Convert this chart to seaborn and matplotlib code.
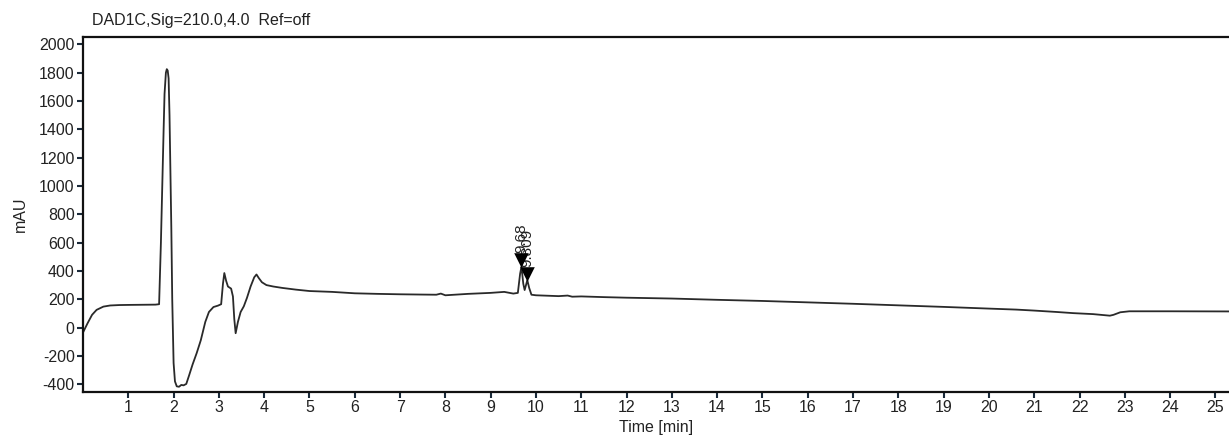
import numpy as np
import pandas as pd
import matplotlib
matplotlib.use("Agg")
import matplotlib.pyplot as plt
import seaborn as sns

# ---- data ----
time_min = [0.00, 0.10, 0.20, 0.30, 0.45, 0.60, 0.80, 1.00, 1.30, 1.60, 1.68, 1.72, 1.75, 1.78, 1.80,
            1.83, 1.85, 1.87, 1.89, 1.91, 1.93, 1.95, 1.97, 2.00, 2.03, 2.07, 2.12, 2.17, 2.22, 2.28,
            2.34, 2.42, 2.51, 2.60, 2.70, 2.78, 2.88, 2.98, 3.05, 3.09, 3.12, 3.16, 3.20, 3.27, 3.31,
            3.34, 3.37, 3.42, 3.48, 3.55, 3.62, 3.70, 3.78, 3.83, 3.88, 3.95, 4.05, 4.20, 4.40, 4.70,
            5.00, 5.50, 6.00, 6.50, 7.00, 7.50, 7.80, 7.90, 8.00, 8.50, 9.00, 9.30, 9.50, 9.60, 9.65,
            9.68, 9.72, 9.75, 9.78, 9.809, 9.85, 9.90, 10.00, 10.50, 10.70, 10.80, 11.00, 11.50, 12.00,
            13.00, 14.00, 15.00, 16.00, 17.00, 18.00, 19.00, 20.00, 20.60, 21.00, 21.50, 21.86, 22.30,
            22.67, 22.75, 22.90, 23.10, 24.00, 25.30]
signal_mau = [-35, 30, 90, 125, 148, 156, 159, 160, 161, 162, 165, 600, 1000, 1400, 1650,
              1800, 1825, 1815, 1760, 1500, 1100, 700, 200, -250, -380, -415, -418, -405, -408, -398,
              -340, -260, -180, -90, 40, 110, 145, 155, 165, 310, 385, 330, 290, 275, 220,
              60, -40, 40, 110, 150, 210, 290, 355, 375, 350, 320, 300, 290, 280, 268,
              258, 252, 242, 238, 235, 233, 232, 240, 228, 238, 245, 252, 240, 245, 380,
              430, 310, 265, 300, 335, 280, 232, 228, 222, 226, 218, 220, 215, 211,
              205, 196, 188, 178, 168, 157, 146, 134, 127, 120, 110, 102, 95,
              84, 90, 108, 115, 115, 114]

peak_times = [9.68, 9.809]
peak_heights = [430, 335]
peak_labels = ["9.68", "9.809"]

y_ticks = list(range(-400, 2001, 200))
x_ticks = list(range(1, 26))

title_text = "DAD1C,Sig=210.0,4.0  Ref=off"
x_label = "Time [min]"
y_label = "mAU"

# ---- styling ----
sns.set_theme(style="ticks")
plt.rcParams["font.family"] = ["Liberation Sans", "DejaVu Sans"]
plt.rcParams["axes.unicode_minus"] = False

FS = 11.5
fig = plt.figure(figsize=(12.29, 4.38), dpi=100)
ax = fig.add_axes([83 / 1229, 1 - 392 / 438, 1 - 83 / 1229, (392 - 37) / 438])

df = pd.DataFrame({"time": time_min, "signal": signal_mau})
sns.lineplot(data=df, x="time", y="signal", ax=ax, estimator=None, sort=False,
             color="#2a2a2a", linewidth=1.3)

# peak markers and labels
pk = pd.DataFrame({"time": peak_times, "height": peak_heights})
pk["marker_y"] = pk["height"] + 45
sns.scatterplot(data=pk, x="time", y="marker_y", ax=ax, marker="v", s=110,
                color="black", edgecolor="black", linewidth=0, zorder=5)
for t, h, lab in zip(peak_times, peak_heights, peak_labels):
    ax.text(t, h + 95, lab, rotation=90, ha="center", va="bottom",
            fontsize=FS - 0.5, color="#222222")

ax.set_xlim(0, 25.3)
ax.set_ylim(-455, 2052)
ax.set_xticks(x_ticks)
ax.set_yticks(y_ticks)
ax.set_xticklabels([str(v) for v in x_ticks])
ax.set_yticklabels([str(v) for v in y_ticks])
ax.tick_params(axis="both", direction="out", length=4, width=1.5,
               labelsize=FS, colors="#1a2a3a", labelcolor="#222222", pad=2)

for s in ["left", "bottom", "top"]:
    ax.spines[s].set_linewidth(1.6)
    ax.spines[s].set_color("#111111")
ax.spines["right"].set_visible(False)

ax.set_xlabel(x_label, fontsize=FS, color="#222222", labelpad=3.5)
ax.set_ylabel(y_label, fontsize=FS, color="#222222", labelpad=8)

fig.text(92 / 1229, 1 - 20 / 438, title_text, fontsize=FS, color="#222222",
         ha="left", va="center")

fig.savefig("out.png", dpi=100)
